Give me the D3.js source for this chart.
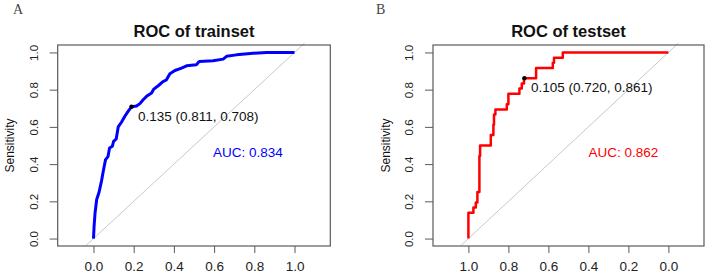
<!DOCTYPE html>
<meta charset="utf-8">
<script src="https://d3js.org/d3.v7.min.js"></script>
<style>
  body { margin: 0; background: #fff; }
  text { font-family: 'Liberation Sans', Arial, sans-serif; }
</style>
<div id="my_dataviz"></div>
<script>

// ---- data ----
// trainset ROC, x = 1 - specificity, y = sensitivity
var trainFpr  = [0, 0.003, 0.008, 0.016, 0.028, 0.04, 0.05, 0.06, 0.072, 0.08, 0.094, 0.1, 0.113, 0.118, 0.123, 0.139, 0.156, 0.172, 0.189,
                 0.214, 0.231, 0.247, 0.264, 0.289, 0.3, 0.322, 0.347, 0.363, 0.38, 0.405, 0.438, 0.463, 0.512, 0.526, 0.595, 0.645, 0.662, 0.711, 0.794, 0.861, 1.0];
var trainSens = [0, 0.066, 0.14, 0.21, 0.25, 0.31, 0.37, 0.424, 0.44, 0.487, 0.496, 0.522, 0.535, 0.567, 0.6, 0.625, 0.657, 0.683, 0.708,
                 0.712, 0.725, 0.746, 0.764, 0.782, 0.803, 0.821, 0.844, 0.853, 0.886, 0.903, 0.916, 0.928, 0.934, 0.952, 0.955, 0.964, 0.979, 0.987, 0.996, 1.0, 1.0];

// testset ROC (step), x = specificity, y = sensitivity
var testSpec = [1.0, 1.0, 0.975, 0.963, 0.955, 0.945, 0.9415, 0.888, 0.875, 0.872, 0.865, 0.808, 0.8, 0.745, 0.733, 0.722, 0.6615, 0.578, 0.572, 0.528, 0.0];
var testSens = [0, 0.139, 0.167, 0.194, 0.25, 0.444, 0.5, 0.556, 0.611, 0.667, 0.694, 0.722, 0.778, 0.806, 0.833, 0.861, 0.917, 0.944, 0.972, 1.0, 1.0];

var yTicks = [0, 0.2, 0.4, 0.6, 0.8, 1.0];
var xTicks = [0, 0.2, 0.4, 0.6, 0.8, 1.0];

var panels = [
  { tag: "A", title: "ROC of trainset", left: 57.7, right: 330.3, tagX: 13,
    domain: [-0.178, 1.178], fpr: true, xs: trainFpr, ys: trainSens, step: false,
    col: "#0000ff", lw: 3, thr: "0.135 (0.811, 0.708)", px: 0.189, py: 0.708, auc: "AUC: 0.834", aucX: 0.595 },
  { tag: "B", title: "ROC of testset", left: 433, right: 704, tagX: 376,
    domain: [1.177, -0.178], fpr: false, xs: testSpec, ys: testSens, step: true,
    col: "#ff0000", lw: 2.5, thr: "0.105 (0.720, 0.861)", px: 0.72, py: 0.861, auc: "AUC: 0.862", aucX: 0.4 }
];

var W = 709, H = 279, plotTop = 45, plotBottom = 246;

var svg = d3.select("#my_dataviz")
  .append("svg")
    .attr("width", W)
    .attr("height", H)
    .style("background", "#fff");

panels.forEach(function(p) {
  var x = d3.scaleLinear().domain(p.domain).range([p.left, p.right]);
  var y = d3.scaleLinear().domain([-0.04, 1.04]).range([plotBottom, plotTop]);
  var g = svg.append("g");

  // panel letter
  g.append("text")
    .attr("x", p.tagX).attr("y", 14)
    .style("font-family", "'Liberation Serif', 'Times New Roman', serif")
    .style("font-size", "14px")
    .style("fill", "#444")
    .text(p.tag);

  // title
  g.append("text")
    .attr("x", (p.left + p.right) / 2).attr("y", 31)
    .attr("dy", "0.35em")
    .attr("text-anchor", "middle")
    .style("font-size", "16.5px")
    .style("font-weight", "bold")
    .style("fill", "#111")
    .text(p.title);

  // diagonal reference line
  var d0 = -0.04, d1 = 1.05;
  g.append("line")
    .attr("x1", x(p.fpr ? d0 : 1 - d0)).attr("y1", y(d0))
    .attr("x2", x(p.fpr ? d1 : 1 - d1)).attr("y2", y(d1))
    .attr("stroke", "#c3cacd")
    .attr("stroke-width", 1);

  // box
  g.append("rect")
    .attr("x", p.left).attr("y", plotTop)
    .attr("width", p.right - p.left).attr("height", plotBottom - plotTop)
    .attr("fill", "none")
    .attr("stroke", "#5a5a5a")
    .attr("stroke-width", 1.2);

  // x axis
  var xa = g.append("g")
    .attr("transform", "translate(0," + plotBottom + ")")
    .call(d3.axisBottom(x).tickValues(xTicks).tickSize(7).tickPadding(8).tickFormat(d3.format(".1f")));
  xa.select(".domain").remove();
  xa.selectAll("line").attr("stroke", "#5a5a5a");
  xa.selectAll("text").style("font-size", "13.5px").style("font-family", "'Liberation Sans', Arial, sans-serif").attr("fill", "#222");

  // y axis
  var ya = g.append("g")
    .attr("transform", "translate(" + p.left + ",0)")
    .call(d3.axisLeft(y).tickValues(yTicks).tickSize(8).tickFormat(d3.format(".1f")));
  ya.select(".domain").remove();
  ya.selectAll("line").attr("stroke", "#5a5a5a");
  ya.selectAll("text")
    .attr("x", null).attr("dy", null)
    .attr("transform", "translate(-24,0) rotate(-90)")
    .attr("text-anchor", "middle")
    .attr("dominant-baseline", "central")
    .style("font-size", "11.5px")
    .style("font-family", "'Liberation Sans', Arial, sans-serif")
    .attr("fill", "#222");

  // y label
  g.append("text")
    .attr("transform", "translate(" + (p.left - 47.5) + "," + ((plotTop + plotBottom) / 2) + ") rotate(-90)")
    .attr("text-anchor", "middle")
    .attr("dominant-baseline", "central")
    .style("font-size", "12px")
    .style("fill", "#111")
    .text("Sensitivity");

  // ROC curve
  var pts = p.xs.map(function(v, i) { return [v, p.ys[i]]; });
  var line = d3.line()
    .x(function(d) { return x(d[0]); })
    .y(function(d) { return y(d[1]); })
    .curve(p.step ? d3.curveStepAfter : d3.curveLinear);
  g.append("path")
    .datum(pts)
    .attr("d", line)
    .attr("fill", "none")
    .attr("stroke", p.col)
    .attr("stroke-width", p.lw)
    .attr("stroke-linejoin", "round");

  // best threshold point + label
  g.append("circle")
    .attr("cx", x(p.px)).attr("cy", y(p.py)).attr("r", 2.2)
    .attr("fill", "#000");
  g.append("text")
    .attr("x", x(p.px) + 6.5).attr("y", y(p.py) + 9.3)
    .attr("dy", "0.35em")
    .style("font-size", "13.5px")
    .style("fill", "#111")
    .text(p.thr);

  // AUC
  g.append("text")
    .attr("x", x(p.aucX)).attr("y", y(0.463))
    .attr("dy", "0.35em")
    .style("font-size", "13.5px")
    .style("fill", p.col)
    .text(p.auc);
});
</script>
